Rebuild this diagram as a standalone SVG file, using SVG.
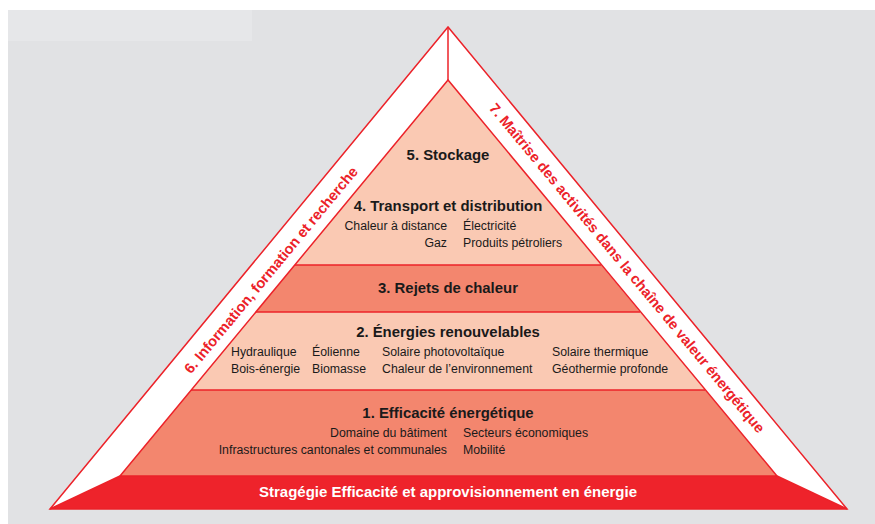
<svg xmlns="http://www.w3.org/2000/svg" width="875" height="524" viewBox="0 0 875 524">
<style>
.ln{stroke:#ec2229;stroke-width:1.5;fill:none;stroke-linejoin:miter}
.t{font-family:"Liberation Sans",Arial,sans-serif;fill:#1a1a1a}
.h{font-size:14.9px;font-weight:bold;text-anchor:middle}
.s{font-size:12.3px}
.r{text-anchor:end}
.side{font-family:"Liberation Sans",Arial,sans-serif;font-size:14.6px;font-weight:bold;fill:#ec2229;text-anchor:middle;dominant-baseline:central}
</style>
<rect x="0" y="0" width="875" height="524" fill="#ffffff"/>
<rect x="8" y="10" width="867" height="514" fill="#e1e2e4"/>
<rect x="8" y="10" width="244" height="31" fill="#e6e7e9"/>
<g id="frame">
<polygon points="448,27 50,509 847,509" fill="#ffffff"/>
</g>
<g id="layer5-4">
<polygon points="448,80 295,265 601,265" fill="#fac9b3"/>
</g>
<g id="layer3">
<polygon points="295,265 601,265 640,312 256,312" fill="#f3866e"/>
</g>
<g id="layer2">
<polygon points="256,312 640,312 705,390 191,390" fill="#fac9b3"/>
</g>
<g id="layer1">
<polygon points="191,390 705,390 777,476 120,476" fill="#f3866e"/>
</g>
<g id="base">
<polygon points="50,509 120,476 777,476 847,509" fill="#ee232b"/>
</g>
<g id="connectors">
<polygon class="ln" points="448,27 50,509 847,509"/>
<polygon class="ln" points="448,80 120,476 777,476"/>
<line class="ln" x1="448" y1="27" x2="448" y2="80"/>
<line class="ln" x1="295" y1="265" x2="601" y2="265"/>
<line class="ln" x1="256" y1="312" x2="640" y2="312"/>
<line class="ln" x1="191" y1="390" x2="705" y2="390"/>
<line class="ln" x1="50" y1="509" x2="120" y2="476"/>
<line class="ln" x1="847" y1="509" x2="777" y2="476"/>
</g>
<g id="text5">
<text class="t h" x="448" y="160">5. Stockage</text>
</g>
<g id="text4">
<text class="t h" x="448" y="211">4. Transport et distribution</text>
<text class="t s r" x="447" y="230">Chaleur à distance</text>
<text class="t s" x="463" y="230">Électricité</text>
<text class="t s r" x="447" y="247">Gaz</text>
<text class="t s" x="463" y="247">Produits pétroliers</text>
</g>
<g id="text3">
<text class="t h" x="448" y="293">3. Rejets de chaleur</text>
</g>
<g id="text2">
<text class="t h" x="448" y="337">2. Énergies renouvelables</text>
<text class="t s" x="231" y="356">Hydraulique</text>
<text class="t s" x="312" y="356">Éolienne</text>
<text class="t s" x="382" y="356">Solaire photovoltaïque</text>
<text class="t s" x="552" y="356">Solaire thermique</text>
<text class="t s" x="231" y="373">Bois-énergie</text>
<text class="t s" x="312" y="373">Biomasse</text>
<text class="t s" x="382" y="373">Chaleur de l’environnement</text>
<text class="t s" x="552" y="373">Géothermie profonde</text>
</g>
<g id="text1">
<text class="t h" x="448" y="418">1. Efficacité énergétique</text>
<text class="t s r" x="447" y="437">Domaine du bâtiment</text>
<text class="t s" x="463" y="437">Secteurs économiques</text>
<text class="t s r" x="447" y="454">Infrastructures cantonales et communales</text>
<text class="t s" x="463" y="454">Mobilité</text>
</g>
<g id="base-text">
<text x="448" y="497" font-family="Liberation Sans, Arial, sans-serif" font-size="14" font-weight="bold" fill="#ffffff" text-anchor="middle" textLength="378" lengthAdjust="spacingAndGlyphs">Stragégie Efficacité et approvisionnement en énergie</text>
</g>
<g id="side6">
<text class="side" transform="translate(271,270) rotate(-50.4)">6. Information, formation et recherche</text>
</g>
<g id="side7">
<text class="side" transform="translate(627,268) rotate(50.4)">7. Maîtrise des activités dans la chaîne de valeur énergétique</text>
</g>
</svg>
